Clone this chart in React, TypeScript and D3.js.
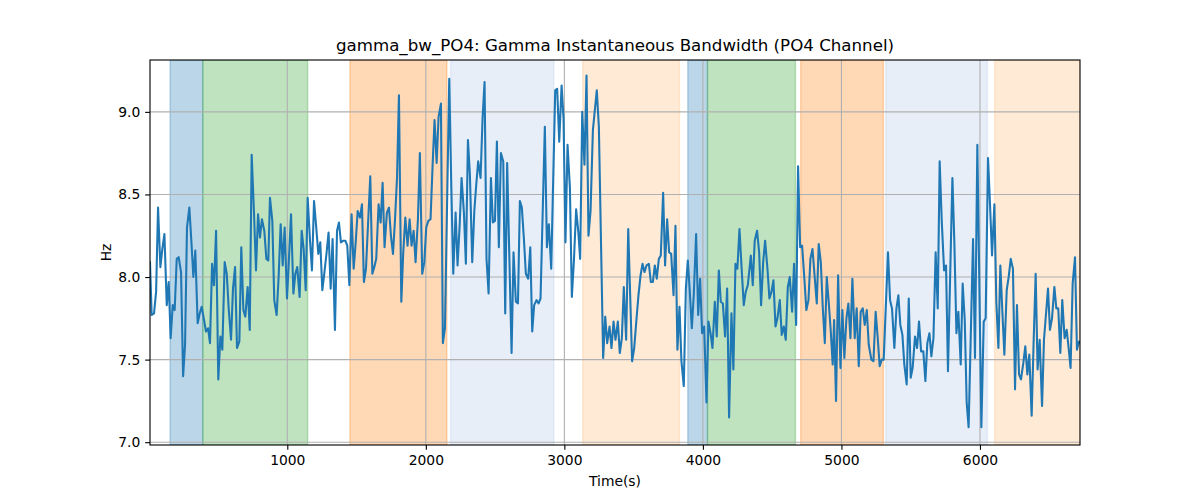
import { useEffect, useRef } from 'react'
import * as d3 from 'd3'

// Gamma bandwidth samples [time (s), Hz]
const bandwidth: [number, number][] = [
	[9, 8.09], [21, 7.77], [38, 7.78], [53, 7.91], [67, 8.42], [84, 8.06], [98, 8.17], [113, 8.26], [130, 7.83], [144, 7.97],
	[158, 7.63], [173, 7.83], [187, 7.8], [202, 8.11], [216, 8.12], [233, 8.03], [248, 7.4], [262, 7.59], [276, 8.3], [293, 8.42],
	[308, 8.21], [322, 8.0], [336, 8.16], [353, 7.72], [368, 7.78], [382, 7.82], [399, 7.74], [413, 7.67], [428, 7.69], [442, 7.6],
	[457, 8.08], [471, 7.95], [486, 8.28], [502, 7.38], [517, 7.64], [531, 7.56], [548, 8.09], [563, 8.02], [577, 7.81], [594, 7.62],
	[608, 7.93], [623, 8.06], [637, 7.57], [654, 7.61], [668, 8.18], [683, 7.8], [697, 7.76], [714, 7.94], [729, 7.68], [743, 8.74],
	[760, 8.38], [774, 8.04], [789, 8.38], [803, 8.24], [817, 8.35], [834, 8.28], [849, 8.11], [863, 8.1],
	[875, 8.48], [892, 8.34], [906, 7.86], [923, 7.77], [938, 8.01], [952, 8.32], [967, 8.07], [981, 8.3], [998, 7.87], [1012, 8.11],
	[1027, 8.38], [1044, 7.9], [1058, 8.02], [1072, 8.06], [1089, 7.88], [1104, 8.28], [1118, 8.17], [1133, 7.92], [1147, 8.48], [1164, 8.22],
	[1178, 8.04], [1193, 8.46], [1207, 8.32], [1224, 8.14], [1238, 8.21], [1253, 7.92], [1267, 8.02], [1284, 8.15], [1298, 8.27], [1313, 7.93],
	[1327, 8.23], [1344, 7.68], [1359, 8.28], [1373, 8.33], [1387, 8.21], [1404, 8.22], [1419, 8.22], [1433, 8.19], [1448, 7.95], [1464, 8.38],
	[1479, 8.05], [1493, 8.2], [1508, 8.4], [1525, 8.36], [1539, 8.44], [1553, 7.97], [1568, 8.05], [1585, 8.36], [1599, 8.61], [1614, 8.02],
	[1628, 8.06], [1642, 8.11], [1659, 8.44], [1674, 8.33], [1688, 8.57], [1702, 8.18], [1719, 8.39], [1734, 8.42],
	[1748, 8.25], [1763, 8.14], [1777, 8.34], [1792, 8.6], [1806, 9.1], [1823, 7.85], [1837, 8.15], [1852, 8.36], [1868, 8.19], [1883, 8.35],
	[1897, 8.19], [1912, 8.28], [1926, 8.09], [1943, 8.35], [1957, 8.75], [1974, 8.02], [1989, 8.09], [2003, 8.3], [2018, 8.34], [2034, 8.35],
	[2049, 8.68], [2063, 8.95], [2078, 8.69], [2092, 8.97], [2109, 9.05], [2123, 7.6], [2138, 7.69], [2169, 9.2], [2184, 8.54], [2198, 8.02],
	[2215, 8.39], [2229, 8.07], [2244, 8.31], [2258, 8.6], [2275, 8.39], [2289, 8.08], [2304, 8.83], [2318, 8.62], [2335, 8.09], [2350, 8.4],
	[2364, 8.56], [2378, 8.7], [2395, 8.6], [2410, 8.97], [2424, 9.18], [2438, 8.11], [2453, 7.9], [2470, 8.6], [2484, 8.33], [2499, 8.34],
	[2513, 8.82], [2527, 8.18], [2542, 8.75], [2559, 8.7], [2573, 7.78], [2587, 8.69],
	[2619, 7.54], [2633, 8.15], [2650, 7.85], [2665, 7.84], [2679, 8.46], [2693, 8.42], [2708, 8.23], [2722, 8.02], [2739, 7.99], [2754, 8.18],
	[2768, 7.67], [2782, 7.83], [2799, 7.86], [2814, 7.84], [2828, 7.87], [2859, 8.91], [2874, 8.18], [2888, 8.32], [2905, 8.05], [2934, 9.13],
	[2948, 9.14], [2963, 8.82], [2980, 9.16], [2994, 8.96], [3008, 8.21], [3023, 8.8], [3040, 8.54], [3054, 7.88], [3069, 8.1], [3085, 8.41],
	[3100, 8.28], [3114, 8.11], [3129, 9.0], [3145, 8.68], [3160, 9.22], [3174, 8.25], [3189, 8.4], [3206, 8.89], [3220, 9.01], [3234, 9.13],
	[3249, 8.91], [3280, 7.51], [3295, 7.76], [3309, 7.6], [3326, 7.7], [3340, 7.57], [3355, 7.73], [3369, 7.62], [3386, 7.73], [3400, 7.54],
	[3415, 7.63], [3429, 7.94], [3446, 7.62], [3461, 8.29],
	[3489, 7.49], [3504, 7.57], [3521, 7.75], [3535, 7.89], [3550, 8.01], [3564, 8.08], [3578, 8.03], [3593, 8.07], [3610, 8.08], [3624, 7.97],
	[3639, 7.97], [3653, 8.07], [3667, 7.99], [3682, 8.11], [3696, 8.13], [3713, 8.51], [3727, 8.07], [3742, 8.35], [3756, 8.15], [3771, 8.14],
	[3788, 7.89], [3802, 8.31], [3816, 7.56], [3831, 7.82], [3845, 7.49], [3862, 7.34], [3877, 7.93], [3891, 8.1], [3905, 7.92], [3920, 7.69],
	[3934, 7.89], [3951, 8.26], [3966, 7.77], [3980, 7.99], [3994, 7.66], [4009, 7.7], [4026, 7.24], [4040, 7.73], [4055, 7.66], [4069, 7.57],
	[4086, 7.85], [4100, 7.64], [4115, 8.04], [4129, 7.85], [4144, 7.84], [4160, 7.64], [4175, 7.93], [4189, 7.15], [4206, 7.78], [4220, 7.44],
	[4235, 8.08], [4249, 8.05], [4264, 8.29], [4281, 8.03], [4295, 7.83], [4309, 7.91], [4324, 7.95],
	[4346, 8.13], [4360, 7.95], [4374, 8.22], [4391, 8.28], [4406, 8.15], [4420, 7.83], [4435, 8.09], [4449, 8.22], [4466, 8.05], [4480, 7.87],
	[4495, 7.91], [4509, 7.98], [4524, 7.7], [4538, 7.75], [4555, 7.86], [4569, 7.65], [4584, 7.7], [4598, 7.62], [4613, 7.94], [4627, 8.0],
	[4644, 7.79], [4658, 8.08], [4673, 7.71], [4687, 8.67], [4702, 8.18], [4716, 8.19], [4730, 8.02], [4747, 7.8], [4762, 7.86], [4776, 8.11],
	[4791, 8.17], [4805, 8.02], [4822, 7.84], [4836, 8.2], [4851, 8.09], [4865, 7.82], [4880, 7.6], [4894, 8.0], [4908, 7.85], [4923, 7.67],
	[4937, 7.47], [4947, 7.74], [4961, 7.25], [4976, 8.01], [4993, 7.45], [5007, 7.8], [5021, 7.51], [5036, 7.75], [5050, 7.84], [5065, 7.63],
	[5079, 7.99], [5096, 7.63], [5110, 7.81], [5125, 7.46], [5139, 7.79], [5154, 7.81], [5168, 7.71], [5183, 7.8], [5197, 7.59],
	[5216, 7.5], [5231, 7.49], [5247, 7.79], [5262, 7.63], [5276, 7.46], [5291, 7.5], [5305, 7.5], [5336, 8.15], [5351, 7.86], [5365, 7.81],
	[5382, 7.57], [5397, 7.81], [5411, 7.89], [5425, 7.71], [5440, 7.65], [5454, 7.47], [5471, 7.35], [5486, 7.87], [5500, 7.39], [5514, 7.45],
	[5531, 7.64], [5546, 7.57], [5560, 7.73], [5575, 7.55], [5591, 7.55], [5606, 7.37], [5620, 7.6], [5635, 7.66], [5649, 7.52], [5664, 7.63],
	[5680, 8.15], [5695, 7.81], [5709, 8.7], [5724, 8.34], [5741, 8.04], [5755, 8.07], [5769, 7.43], [5801, 8.6], [5815, 8.21], [5830, 7.66],
	[5844, 7.79], [5861, 7.47], [5875, 7.96], [5890, 7.74], [5904, 7.24], [5918, 7.09], [5950, 8.23], [5964, 7.51], [5981, 8.8], [6010, 7.09],
	[6027, 7.73], [6041, 7.75], [6058, 8.72],
	[6072, 8.45], [6087, 8.13], [6104, 8.44], [6118, 7.85], [6133, 7.57], [6147, 8.07], [6161, 7.8], [6176, 7.53], [6193, 7.92], [6207, 8.0],
	[6222, 8.11], [6238, 8.05], [6253, 7.32], [6267, 7.83], [6282, 7.41], [6296, 7.38], [6313, 7.48], [6327, 7.58], [6342, 7.41], [6356, 7.53],
	[6373, 7.16], [6387, 7.6], [6402, 8.02], [6416, 7.44], [6431, 7.62], [6448, 7.22], [6462, 7.62], [6476, 7.77], [6491, 7.93], [6505, 7.68],
	[6520, 7.75], [6537, 7.94], [6551, 7.81], [6565, 7.81], [6580, 7.54], [6594, 7.86], [6611, 7.63], [6626, 7.68], [6640, 7.57], [6654, 7.45],
	[6669, 7.96], [6686, 8.12], [6700, 7.56], [6715, 7.61], [6722, 7.6],
]

// shaded intervals (seconds) and which state each belongs to
const spanStarts = [154, 390, 1452, 2179, 3133, 3891, 4033, 4706, 5320, 6106]
const spanEnds = [390, 1147, 2152, 2924, 3831, 4033, 4668, 5303, 6053, 6722]
const spanKinds = [0, 1, 2, 3, 4, 0, 1, 2, 3, 4]

const xTicks = [1000, 2000, 3000, 4000, 5000, 6000]
const yTicks = [7.0, 7.5, 8.0, 8.5, 9.0]

const kindColors = ['#1f77b4', '#2ca02c', '#ff7f0e', '#aec7e8', '#ffbb78']

const App = () => {
	const svgRef = useRef<SVGSVGElement>(null)

	useEffect(() => {
		const width = 1200
		const height = 500
		const margin = { top: 60, right: 120, bottom: 55, left: 150 }
		const font = 'DejaVu Sans, sans-serif'
		const pt = 100 / 72 // figure rendered at 100 dpi

		d3.select(svgRef.current).selectAll('*').remove()
		const svg = d3.select(svgRef.current).attr('width', width).attr('height', height)

		const x = d3
			.scaleLinear()
			.domain([9, 6722])
			.range([margin.left, width - margin.right])
		const y = d3
			.scaleLinear()
			.domain([6.983, 9.314])
			.range([height - margin.bottom, margin.top])
		const color = d3.scaleOrdinal<number, string>().domain([0, 1, 2, 3, 4]).range(kindColors)

		svg.append('rect').attr('width', width).attr('height', height).attr('fill', 'white')

		svg
			.append('defs')
			.append('clipPath')
			.attr('id', 'plot-clip')
			.append('rect')
			.attr('x', margin.left)
			.attr('y', margin.top)
			.attr('width', width - margin.left - margin.right)
			.attr('height', height - margin.top - margin.bottom)

		const plot = svg.append('g').attr('clip-path', 'url(#plot-clip)')

		// Shaded spans
		plot
			.append('g')
			.selectAll('rect')
			.data(spanStarts.map((s, i) => ({ s, e: spanEnds[i], k: spanKinds[i] })))
			.join('rect')
			.attr('x', (d) => x(d.s))
			.attr('width', (d) => x(d.e) - x(d.s))
			.attr('y', margin.top)
			.attr('height', height - margin.top - margin.bottom)
			.attr('fill', (d) => color(d.k))
			.attr('fill-opacity', 0.3)
			.attr('stroke', (d) => color(d.k))
			.attr('stroke-opacity', 0.3)
			.attr('stroke-width', pt)

		// Grid
		const grid = plot.append('g').attr('stroke', '#b0b0b0').attr('stroke-width', 0.8 * pt)
		grid
			.selectAll('line.v')
			.data(xTicks)
			.join('line')
			.attr('class', 'v')
			.attr('x1', (d) => x(d))
			.attr('x2', (d) => x(d))
			.attr('y1', margin.top)
			.attr('y2', height - margin.bottom)
		grid
			.selectAll('line.h')
			.data(yTicks)
			.join('line')
			.attr('class', 'h')
			.attr('x1', margin.left)
			.attr('x2', width - margin.right)
			.attr('y1', (d) => y(d))
			.attr('y2', (d) => y(d))

		// Series line
		const line = d3
			.line<[number, number]>()
			.x((d) => x(d[0]))
			.y((d) => y(d[1]))
		plot
			.append('path')
			.datum(bandwidth)
			.attr('d', line)
			.attr('fill', 'none')
			.attr('stroke', '#1f77b4')
			.attr('stroke-width', 1.5 * pt)
			.attr('stroke-linejoin', 'round')
			.attr('stroke-linecap', 'square')

		// Axes
		const xAxis = d3
			.axisBottom(x)
			.tickValues(xTicks)
			.tickFormat(d3.format('d'))
			.tickSize(3.5 * pt)
			.tickPadding(3.5 * pt)
		const yAxis = d3
			.axisLeft(y)
			.tickValues(yTicks)
			.tickFormat(d3.format('.1f'))
			.tickSize(3.5 * pt)
			.tickPadding(3.5 * pt)

		const gx = svg
			.append('g')
			.attr('transform', `translate(0,${height - margin.bottom})`)
			.call(xAxis)
		const gy = svg.append('g').attr('transform', `translate(${margin.left},0)`).call(yAxis)

		for (const g of [gx, gy]) {
			g.select('.domain').remove()
			g.selectAll('line').attr('stroke', 'black').attr('stroke-width', 0.8 * pt)
			g.selectAll('text')
				.style('font-family', font)
				.style('font-size', `${10 * pt}px`)
				.attr('fill', 'black')
		}

		// Frame
		svg
			.append('rect')
			.attr('x', margin.left)
			.attr('y', margin.top)
			.attr('width', width - margin.left - margin.right)
			.attr('height', height - margin.top - margin.bottom)
			.attr('fill', 'none')
			.attr('stroke', 'black')
			.attr('stroke-width', 0.8 * pt)

		// Labels
		svg
			.append('text')
			.attr('x', (margin.left + width - margin.right) / 2)
			.attr('y', 51)
			.attr('text-anchor', 'middle')
			.style('font-family', font)
			.style('font-size', `${12 * pt}px`)
			.text('gamma_bw_PO4: Gamma Instantaneous Bandwidth (PO4 Channel)')

		svg
			.append('text')
			.attr('x', (margin.left + width - margin.right) / 2)
			.attr('y', 486)
			.attr('text-anchor', 'middle')
			.style('font-family', font)
			.style('font-size', `${10 * pt}px`)
			.text('Time(s)')

		svg
			.append('text')
			.attr('transform', `translate(111,${(margin.top + height - margin.bottom) / 2}) rotate(-90)`)
			.attr('text-anchor', 'middle')
			.style('font-family', font)
			.style('font-size', `${10 * pt}px`)
			.text('Hz')
	}, [])

	return (
		<div style={{ position: 'absolute', left: 0, top: 0 }}>
			<svg ref={svgRef}></svg>
		</div>
	)
}

export default App
